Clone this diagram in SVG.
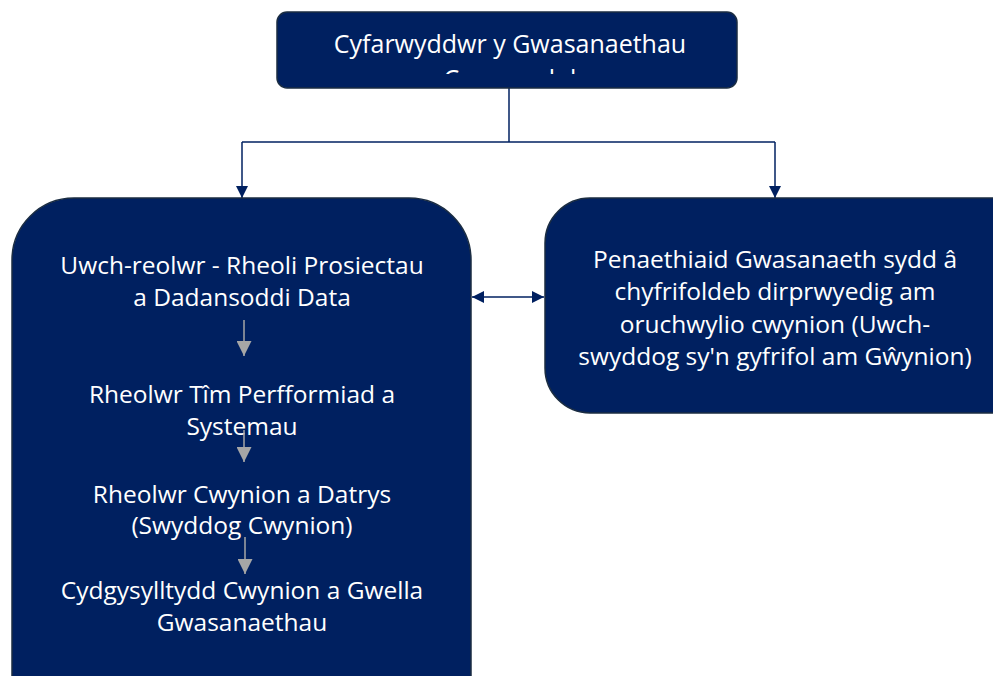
<svg xmlns="http://www.w3.org/2000/svg" width="993" height="676" viewBox="0 0 993 676">
<style>
.box{fill:#002060;stroke:#1b2d42;stroke-width:1.5}
.t{font-family:"Open Sans","Liberation Sans",sans-serif;font-size:24.5px;fill:#ffffff;text-anchor:middle}
.c{fill:none;stroke:#002060;stroke-width:1.5}
.g{fill:none;stroke:#a6a6a6;stroke-width:1.5}
</style>
<defs>
<marker id="ah" viewBox="0 0 10 10" refX="10" refY="5" markerWidth="9" markerHeight="8" orient="auto-start-reverse" markerUnits="strokeWidth"><path d="M0,0L10,5L0,10z" fill="#002060"/></marker>
<marker id="gh" viewBox="0 0 10 10" refX="10" refY="5" markerWidth="11" markerHeight="10" orient="auto" markerUnits="strokeWidth"><path d="M0,0L10,5L0,10z" fill="#a6a6a6"/></marker>
<clipPath id="topclip"><rect x="277" y="12" width="460" height="62"/></clipPath>
</defs>
<rect width="993" height="676" fill="#ffffff"/>
<g id="connectors">
<path class="c" d="M509,88V142"/>
<path class="c" d="M242,142H775"/>
<path class="c" d="M242,142V198" marker-end="url(#ah)"/>
<path class="c" d="M775,142V198" marker-end="url(#ah)"/>
<path class="c" d="M472,297H544" marker-start="url(#ah)" marker-end="url(#ah)"/>
</g>
<g id="top">
<rect class="box" x="277" y="12" width="460" height="76" rx="10"/>
<g clip-path="url(#topclip)">
<text class="t" x="510" y="53" style="font-size:25px">Cyfarwyddwr y Gwasanaethau</text>
<text class="t" x="510" y="88" style="font-size:25px">Cymunedol</text>
</g>
</g>
<g id="left">
<rect class="box" x="12" y="198" width="459" height="540" rx="62"/>
<text class="t" x="242" y="274">Uwch-reolwr - Rheoli Prosiectau</text>
<text class="t" x="242" y="306">a Dadansoddi Data</text>
<text class="t" x="242" y="403">Rheolwr Tîm Perfformiad a</text>
<text class="t" x="242" y="435">Systemau</text>
<text class="t" x="242" y="503">Rheolwr Cwynion a Datrys</text>
<text class="t" x="242" y="534">(Swyddog Cwynion)</text>
<text class="t" x="242" y="599">Cydgysylltydd Cwynion a Gwella</text>
<text class="t" x="242" y="631">Gwasanaethau</text>
<path class="g" d="M244,320V356" marker-end="url(#gh)"/>
<path class="g" d="M244,430V462" marker-end="url(#gh)"/>
<path class="g" d="M245,537V574" marker-end="url(#gh)"/>
</g>
<g id="right">
<rect class="box" x="545" y="198" width="500" height="215" rx="45"/>
<text class="t" x="775" y="268">Penaethiaid Gwasanaeth sydd â</text>
<text class="t" x="775" y="300">chyfrifoldeb dirprwyedig am</text>
<text class="t" x="775" y="333">oruchwylio cwynion (Uwch-</text>
<text class="t" x="775" y="365">swyddog sy'n gyfrifol am Gŵynion)</text>
</g>
</svg>
